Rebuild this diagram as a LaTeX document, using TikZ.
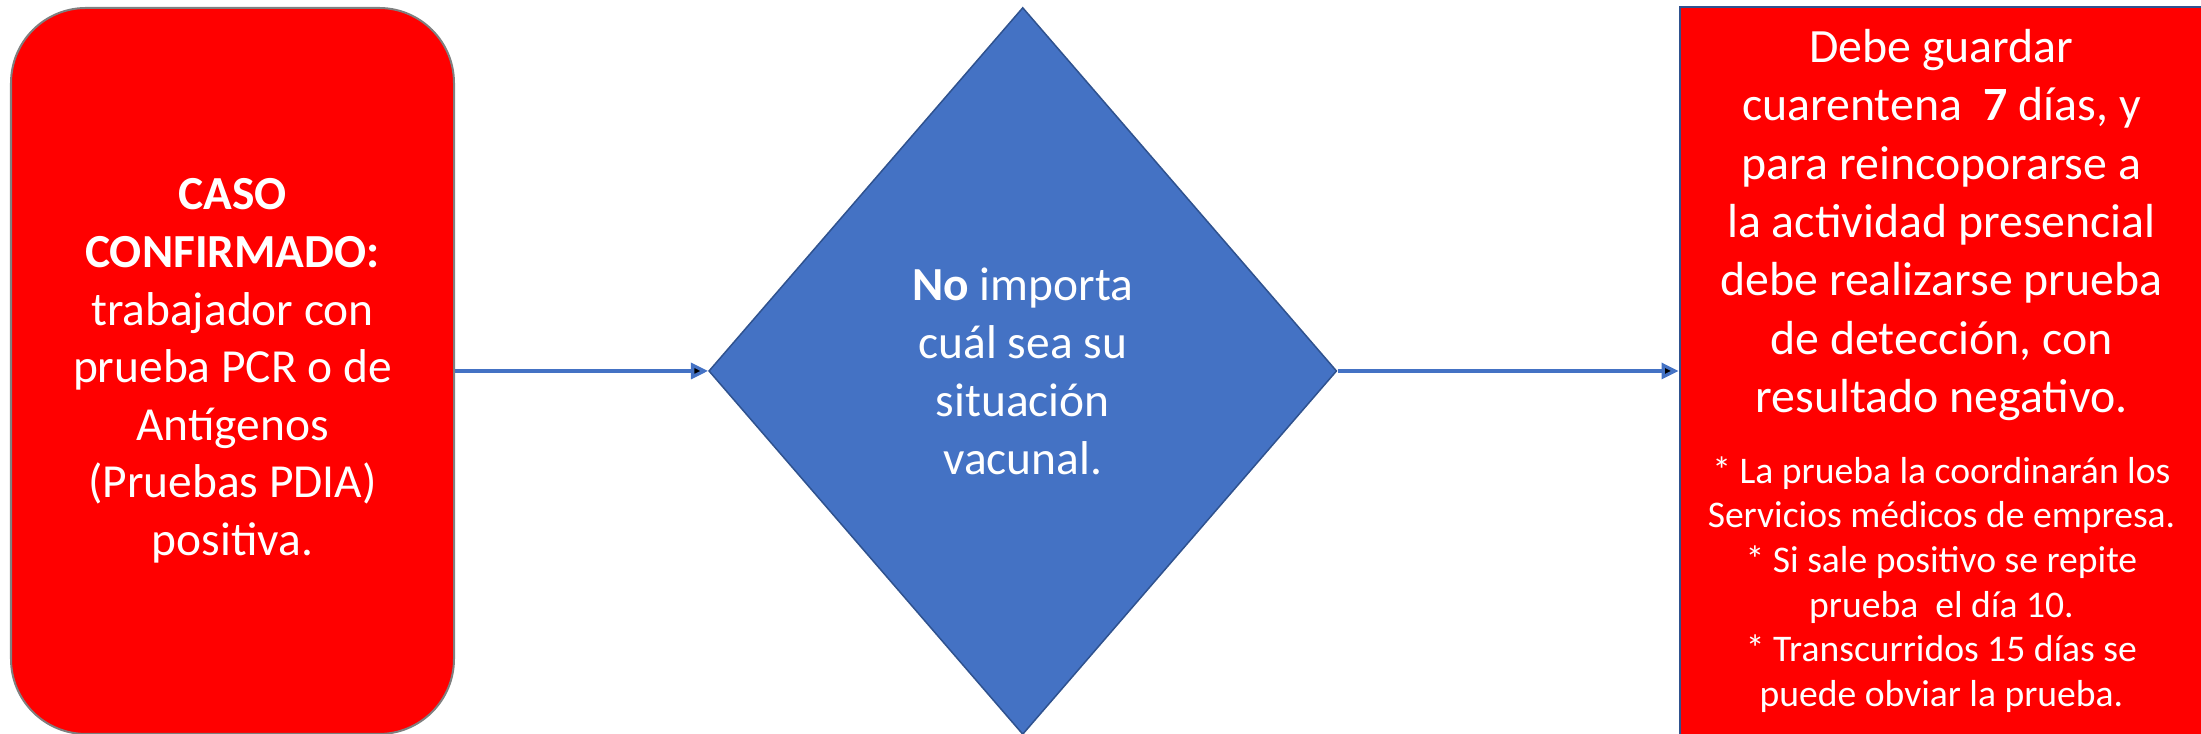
\documentclass[tikz,border=0pt]{standalone}
\usepackage{fontspec}
\setmainfont{Carlito}
\usetikzlibrary{positioning,shapes.geometric,arrows.meta}
\definecolor{rojo}{HTML}{FF0000}
\definecolor{azul}{HTML}{4472C4}
\definecolor{azulborde}{HTML}{2F528F}
\definecolor{gris}{HTML}{7F7F7F}

\begin{document}
\begin{tikzpicture}[->, >={Triangle[length=0.17cm,width=0.16cm]}, node distance=2.53cm,
    caja/.style={draw, fill=rojo, text=white, align=flush center, line width=0.02cm,
      font=\fontsize{13.5}{16.4}\selectfont},
    rombo/.style={diamond, draw=azulborde, fill=azul, text=white, align=center,
      line width=0.015cm, minimum width=6.28cm, minimum height=7.27cm, inner sep=0pt,
      font=\fontsize{13.5}{16.5}\selectfont},
    conector/.style={draw=azul, line width=0.033cm}]
    \useasboundingbox (0,0) rectangle (22.01,7.34);
    \clip (0,0) rectangle (22.01,7.34);

    % Define states
    \node[caja, draw=gris, rounded corners=0.75cm, minimum width=4.43cm, minimum height=7.26cm] (caso) at (2.325,3.63)
      {\textbf{CASO}\\ \textbf{CONFIRMADO:}\\ trabajador con\\ prueba PCR o de\\ Antígenos\\ (Pruebas PDIA)\\ positiva.};
    \node[rombo, right=of caso] (vacuna)
      {\textbf{No} importa\\ cuál sea su\\ situación\\ vacunal.};
    \node[caja, draw=azulborde, line width=0.025cm, right=3.41cm of vacuna, minimum width=5.21cm, minimum height=7.28cm,
      text width=5cm] (cuarentena)
      {{\fontsize{13.6}{16.6}\selectfont Debe guardar\\ cuarentena\ \ \textbf{7} días, y\\ para reincoporarse a\\
        la actividad presencial\\ debe realizarse prueba\\ de detección, con\\ resultado negativo.\par}
       \vspace{0.26cm}
       {\fontsize{10.7}{12.7}\selectfont * La prueba la coordinarán los\\{}Servicios médicos de empresa.\\{}*
        Si sale positivo se repite\\{}prueba\ \ el día 10.\\{}* Transcurridos 15 días se\\{}puede obviar la prueba.\par}};

    % Transitions between states
    \draw[conector] (caso) edge (vacuna);
    \draw[conector] (vacuna) edge (cuarentena);

\end{tikzpicture}
\end{document}
